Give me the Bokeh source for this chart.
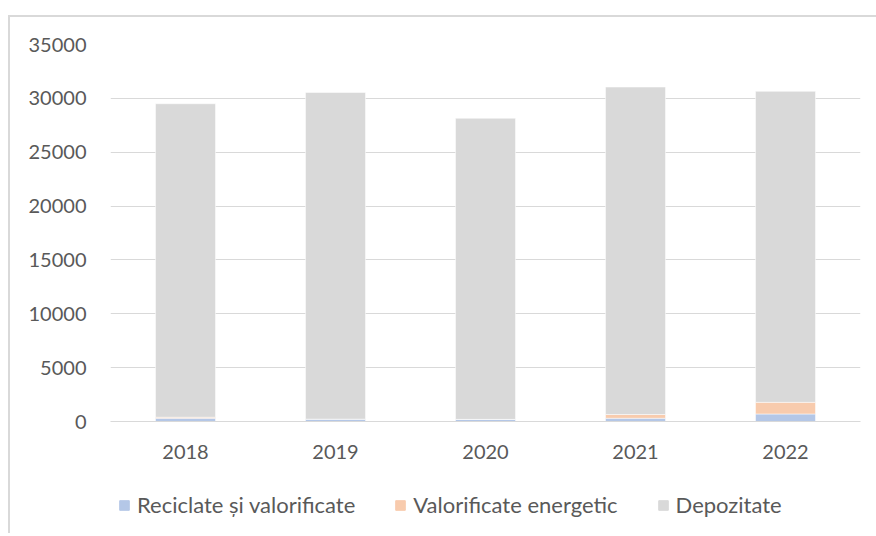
from bokeh.plotting import figure
from bokeh.models import (FactorRange, Range1d, Legend, LegendItem, ColumnDataSource,
                          SingleIntervalTicker, NumeralTickFormatter)
from bokeh.layouts import column
from bokeh.embed import file_html
from bokeh.resources import INLINE

years = ["2018", "2019", "2020", "2021", "2022"]
reciclate = [300, 220, 200, 300, 700]
energetic = [100, 0, 0, 350, 1080]
depozitate = [29100, 30330, 27950, 30400, 28870]

series = ["Reciclate și valorificate", "Valorificate energetic", "Depozitate"]
keys = ["reciclate", "energetic", "depozitate"]
colors = ["#b4c7e7", "#f8cbad", "#d9d9d9"]

src = ColumnDataSource(dict(years=years, reciclate=reciclate, energetic=energetic, depozitate=depozitate))

FONT = "Lato"
TXT = "#595959"

p = figure(x_range=FactorRange(factors=years, range_padding=0), y_range=Range1d(0, 35000),
           width=866, height=460, output_backend="svg", toolbar_location=None,
           min_border_left=100, min_border_right=16, min_border_top=27, min_border_bottom=56)

p.vbar_stack(keys, x="years", width=0.4, color=colors, line_color="white", line_width=0.5, source=src)

p.outline_line_color = None
p.xgrid.grid_line_color = None
p.ygrid.grid_line_color = "#d9d9d9"
p.ygrid.grid_line_width = 1
p.yaxis.ticker = SingleIntervalTicker(interval=5000)
p.yaxis.formatter = NumeralTickFormatter(format="0")
p.yaxis.axis_line_color = None
p.yaxis.major_tick_line_color = None
p.yaxis.minor_tick_line_color = None
p.yaxis.major_label_standoff = 18
p.xaxis.axis_line_color = "#d9d9d9"
p.xaxis.axis_line_width = 1
p.xaxis.major_tick_line_color = None
p.xaxis.minor_tick_line_color = None
p.xaxis.major_label_standoff = 17
for ax in (p.xaxis, p.yaxis):
    ax.major_label_text_font = FONT
    ax.major_label_text_font_size = "20px"
    ax.major_label_text_color = TXT

# legend strip (its frame is aligned with the main frame by the column layout)
lg = figure(width=866, height=56, x_range=Range1d(0, 1), y_range=Range1d(0, 1),
            output_backend="svg", toolbar_location=None,
            min_border_left=0, min_border_right=0, min_border_top=0, min_border_bottom=0)
lg.axis.visible = False
lg.grid.visible = False
lg.outline_line_color = None
offscreen = ColumnDataSource(dict(x=[-5], top=[-5]))
lrs = [lg.vbar(x="x", top="top", width=0.1, color=c, source=offscreen) for c in colors]

legend = Legend(items=[LegendItem(label=s, renderers=[r]) for s, r in zip(series, lrs)],
                orientation="horizontal", location=(8, 15))
legend.label_text_font = FONT
legend.label_text_font_size = "22px"
legend.label_text_color = TXT
legend.glyph_width = 12
legend.glyph_height = 12
legend.label_standoff = 7
legend.spacing = 39
legend.border_line_color = None
legend.background_fill_alpha = 0
legend.margin = 0
legend.padding = 0
lg.add_layout(legend, "center")

layout = column(p, lg, spacing=0,
                styles={"margin-left": "8px", "margin-top": "15px",
                        "border-left": "2px solid #d9d9d9", "border-top": "2px solid #d9d9d9"})

open("out.html", "w").write(file_html(layout, INLINE))
